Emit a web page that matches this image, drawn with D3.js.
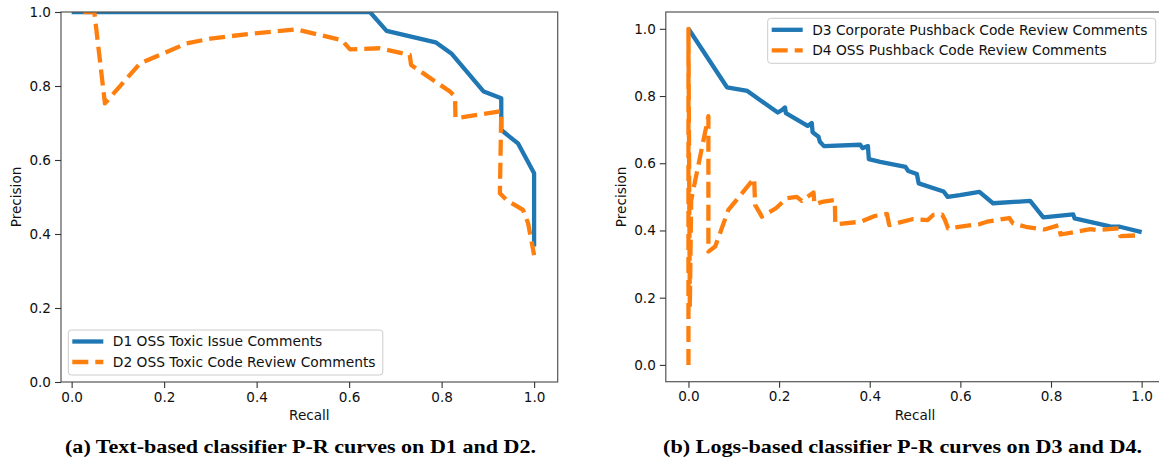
<!DOCTYPE html>
<html>
<head>
<meta charset="utf-8">
<script src="https://cdn.jsdelivr.net/npm/d3@7"></script>
<style>
  body { margin: 0; background: #fff; }
  svg text { font-family: "DejaVu Sans", sans-serif; }
</style>
</head>
<body>
<svg id="chart" width="1159" height="464"></svg>
<script>
// (a) text-based classifier
var d1Recall    = [0, 0.645, 0.681, 0.787, 0.821, 0.891, 0.929, 0.929, 0.965, 1.0, 1.0];
var d1Precision = [1, 1, 0.949, 0.918, 0.888, 0.785, 0.767, 0.681, 0.645, 0.564, 0.366];

var d2Recall    = [0.025, 0.049, 0.072, 0.126, 0.148, 0.248, 0.30, 0.392, 0.486, 0.584, 0.602, 0.666, 0.731, 0.734,
                   0.818, 0.829, 0.830, 0.929, 0.926, 0.940, 0.976, 0.987, 1.0];
var d2Precision = [1.0, 1.0, 0.753, 0.830, 0.861, 0.915, 0.928, 0.942, 0.953, 0.924, 0.899, 0.902, 0.884, 0.857,
                   0.785, 0.771, 0.713, 0.732, 0.510, 0.492, 0.465, 0.429, 0.343];

// (b) logs-based classifier
var d3Recall    = [0, 0.085, 0.130, 0.197, 0.206, 0.213, 0.215, 0.263, 0.272, 0.274, 0.287, 0.290, 0.299, 0.379,
                   0.384, 0.396, 0.398, 0.423, 0.479, 0.485, 0.504, 0.508, 0.563, 0.572, 0.599, 0.642, 0.672,
                   0.754, 0.783, 0.849, 0.852, 0.930, 0.952, 1.0];
var d3Precision = [1.0, 0.826, 0.815, 0.751, 0.758, 0.766, 0.749, 0.711, 0.720, 0.692, 0.679, 0.664, 0.651, 0.655,
                   0.645, 0.651, 0.612, 0.604, 0.589, 0.577, 0.568, 0.540, 0.516, 0.500, 0.505, 0.515, 0.481,
                   0.488, 0.439, 0.448, 0.436, 0.412, 0.411, 0.395];

var d4Recall    = [0, 0, 0.003, 0.006, 0.044, 0.044, 0.059, 0.088, 0.145, 0.147, 0.162, 0.193, 0.217, 0.239,
                   0.250, 0.276, 0.278, 0.298, 0.323, 0.324, 0.380, 0.411, 0.423, 0.438, 0.443, 0.496, 0.528,
                   0.540, 0.560, 0.566, 0.573, 0.626, 0.643, 0.659, 0.708, 0.716, 0.744, 0.785, 0.818, 0.821,
                   0.887, 0.901, 0.950, 0.953, 1.0];
var d4Precision = [0, 1.0, 0.17, 0.49, 0.74, 0.337, 0.352, 0.461, 0.555, 0.476, 0.441, 0.466, 0.496, 0.500,
                   0.488, 0.513, 0.478, 0.486, 0.491, 0.418, 0.426, 0.443, 0.446, 0.449, 0.416, 0.434, 0.431,
                   0.446, 0.447, 0.431, 0.406, 0.416, 0.419, 0.426, 0.437, 0.421, 0.411, 0.403, 0.416, 0.388,
                   0.404, 0.401, 0.406, 0.383, 0.386];

var tickValues = [0, 0.2, 0.4, 0.6, 0.8, 1.0];

var BLUE = "#1f77b4", ORANGE = "#ff7f0e";
var svg = d3.select("#chart");

function zip(xs, ys) {
  return xs.map(function (x, i) { return [x, ys[i]]; });
}

/*

  ONE PANEL

*/
function drawPanel(p) {
  var x = d3.scaleLinear().domain(p.xDomain).range(p.xRange);
  var y = d3.scaleLinear().domain(p.yDomain).range(p.yRange);
  var g = svg.append("g");

  g.append("clipPath").attr("id", p.id + "-clip")
    .append("rect")
      .attr("x", p.xRange[0]).attr("y", p.yRange[1])
      .attr("width", p.xRange[1] - p.xRange[0])
      .attr("height", p.yRange[0] - p.yRange[1]);

  var line = d3.line().x(function (d) { return x(d[0]); }).y(function (d) { return y(d[1]); });

  p.series.forEach(function (s) {
    g.append("path")
      .datum(zip(s.x, s.y))
      .attr("clip-path", "url(#" + p.id + "-clip)")
      .attr("d", line)
      .attr("fill", "none")
      .attr("stroke", s.color)
      .attr("stroke-width", 4.3)
      .attr("stroke-linejoin", "round")
      .attr("stroke-dasharray", s.dash ? "16,7" : null);
  });

  // spines
  g.append("rect")
    .attr("x", p.xRange[0]).attr("y", p.yRange[1])
    .attr("width", p.xRange[1] - p.xRange[0])
    .attr("height", p.yRange[0] - p.yRange[1])
    .attr("fill", "none").attr("stroke", "#555").attr("stroke-width", 1.2);

  // axes
  var xAxis = g.append("g")
    .attr("transform", "translate(0," + p.yRange[0] + ")")
    .call(d3.axisBottom(x).tickValues(tickValues).tickFormat(d3.format(".1f")).tickSize(6).tickPadding(4));
  var yAxis = g.append("g")
    .attr("transform", "translate(" + p.xRange[0] + ",0)")
    .call(d3.axisLeft(y).tickValues(tickValues).tickFormat(d3.format(".1f")).tickSize(6).tickPadding(4));
  [xAxis, yAxis].forEach(function (a) {
    a.select(".domain").remove();
    a.selectAll("line").attr("stroke", "#333").attr("stroke-width", 1.1);
    a.selectAll("text").attr("fill", "#111").style("font-size", "13.6px").style("font-family", '"DejaVu Sans", sans-serif');
  });

  g.append("text")
    .attr("x", (p.xRange[0] + p.xRange[1]) / 2).attr("y", 420)
    .attr("text-anchor", "middle").style("font-size", "13.6px").attr("fill", "#111")
    .text("Recall");
  g.append("text")
    .attr("transform", "translate(" + p.yLabelX + "," + ((p.yRange[0] + p.yRange[1]) / 2) + ") rotate(-90)")
    .attr("text-anchor", "middle").attr("dy", "0.35em").style("font-size", "13.6px").attr("fill", "#111")
    .text("Precision");

  //LEGEND
  var L = p.legend;
  var lg = g.append("g").attr("transform", "translate(" + L.x + "," + L.y + ")");
  lg.append("rect")
    .attr("width", L.w).attr("height", 45).attr("rx", 3)
    .attr("fill", "#fff").attr("fill-opacity", 0.8)
    .attr("stroke", "#ccc").attr("stroke-width", 1);
  p.series.forEach(function (s, i) {
    var cy = 11.5 + i * 20.5;
    lg.append("line")
      .attr("x1", 4).attr("x2", 35).attr("y1", cy).attr("y2", cy)
      .attr("stroke", s.color).attr("stroke-width", 4.3)
      .attr("stroke-dasharray", s.dash ? "16,7" : null);
    lg.append("text")
      .attr("x", 44.5).attr("y", cy).attr("dy", "0.35em")
      .style("font-size", "13.8px").attr("fill", "#111")
      .text(s.name);
  });

  svg.append("text")
    .attr("x", p.caption.x).attr("y", 453)
    .attr("text-anchor", "middle")
    .attr("textLength", p.caption.w).attr("lengthAdjust", "spacingAndGlyphs")
    .style("font-family", '"Liberation Serif", serif').style("font-weight", "bold").style("font-size", "19.5px")
    .attr("fill", "#000")
    .text(p.caption.text);
}

drawPanel({
  id: "a",
  xDomain: [-0.023, 1.051], xRange: [61, 557.7],
  yDomain: [0, 1], yRange: [382, 12],
  yLabelX: 16,
  series: [
    { name: "D1 OSS Toxic Issue Comments", x: d1Recall, y: d1Precision, color: BLUE, dash: false },
    { name: "D2 OSS Toxic Code Review Comments", x: d2Recall, y: d2Precision, color: ORANGE, dash: true }
  ],
  legend: { x: 68.3, y: 330, w: 314.5 },
  caption: { x: 300.5, w: 471, text: "(a) Text-based classifier P-R curves on D1 and D2." }
});

drawPanel({
  id: "b",
  xDomain: [-0.05, 1.05], xRange: [665.8, 1164.3],
  yDomain: [-0.05, 1.05], yRange: [381.7, 12],
  yLabelX: 621,
  series: [
    { name: "D3 Corporate Pushback Code Review Comments", x: d3Recall, y: d3Precision, color: BLUE, dash: false },
    { name: "D4 OSS Pushback Code Review Comments", x: d4Recall, y: d4Precision, color: ORANGE, dash: true }
  ],
  legend: { x: 767.7, y: 18.3, w: 388 },
  caption: { x: 902.5, w: 479, text: "(b) Logs-based classifier P-R curves on D3 and D4." }
});
</script>
</body>
</html>
